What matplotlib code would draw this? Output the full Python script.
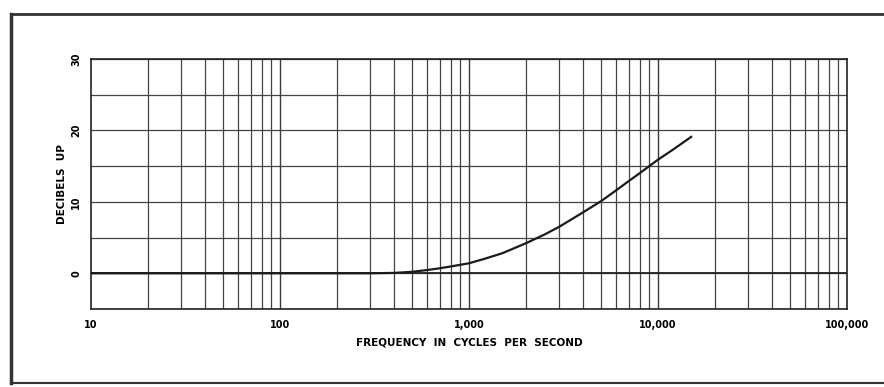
"""
Frequency response curve, decibels up versus frequency on a log scale.
"""

import matplotlib.pyplot as plt
import matplotlib.lines as mlines
import numpy as np

# Response
freq = [10, 100, 200, 300, 400, 500, 600, 700, 800, 1000, 1200, 1500, 2000,
        2500, 3000, 4000, 5000, 6000, 7000, 8000, 10000, 12000, 15000]
db_up = [0, 0, 0, 0, 0.05, 0.2, 0.45, 0.7, 0.95, 1.4, 2.0, 2.8, 4.2,
         5.4, 6.5, 8.5, 10.1, 11.6, 12.9, 14.0, 15.9, 17.3, 19.1]

xtick_vals = [10, 100, 1000, 10000, 100000]
xtick_labels = ["10", "100", "1,000", "10,000", "100,000"]
ytick_vals = [0, 10, 20, 30]


def main():
    fig = plt.figure(figsize=(8.84, 3.87), dpi=100)
    ax = fig.add_axes([0.103, 0.2016, 0.855, 0.6459])

    ax.set_xscale("log")
    ax.set_xlim(10, 100000)
    ax.set_ylim(-5, 30)

    # Grid: every 1..9 per decade, every 5 dB
    for dec in [10, 100, 1000, 10000]:
        for m in range(2, 10):
            ax.axvline(dec * m, color="#444444", lw=0.9, zorder=1)
    for dec in [100, 1000, 10000]:
        ax.axvline(dec, color="#3a3a3a", lw=1.0, zorder=1)
    for y in np.arange(-5, 31, 5):
        ax.axhline(y, color="#444444", lw=0.9, zorder=1)
    ax.axhline(0, color="#222222", lw=1.3, zorder=1)

    ax.plot(freq, db_up, color="#1a1a1a", lw=1.6, zorder=3,
            solid_joinstyle="round")

    for s in ax.spines.values():
        s.set_color("#222222")
        s.set_linewidth(1.2)

    ax.set_xticks(xtick_vals)
    ax.set_xticklabels(xtick_labels, fontsize=7, fontweight="bold")
    ax.xaxis.set_minor_locator(plt.NullLocator())
    ax.set_yticks(ytick_vals)
    ax.set_yticklabels([str(v) for v in ytick_vals], fontsize=7,
                       fontweight="bold", rotation=90, va="center")
    ax.tick_params(length=0, pad=8)
    ax.tick_params(axis="y", pad=7)

    ax.set_xlabel("FREQUENCY  IN  CYCLES  PER  SECOND", fontsize=7.5,
                  fontweight="bold", labelpad=5)
    ax.set_ylabel("DECIBELS  UP", fontsize=7.5, fontweight="bold", labelpad=3)

    # Outer frame (top, left, bottom)
    for xs, ys, w in [([0.012, 1.0], [0.965, 0.965], 2.0),
                      ([0.013, 0.013], [0.01, 0.965], 2.5),
                      ([0.012, 1.0], [0.011, 0.011], 1.5)]:
        fig.add_artist(mlines.Line2D(xs, ys, color="#333333", lw=w,
                                     transform=fig.transFigure))

    fig.savefig("out.png", dpi=100)


if __name__ == "__main__":
    main()
